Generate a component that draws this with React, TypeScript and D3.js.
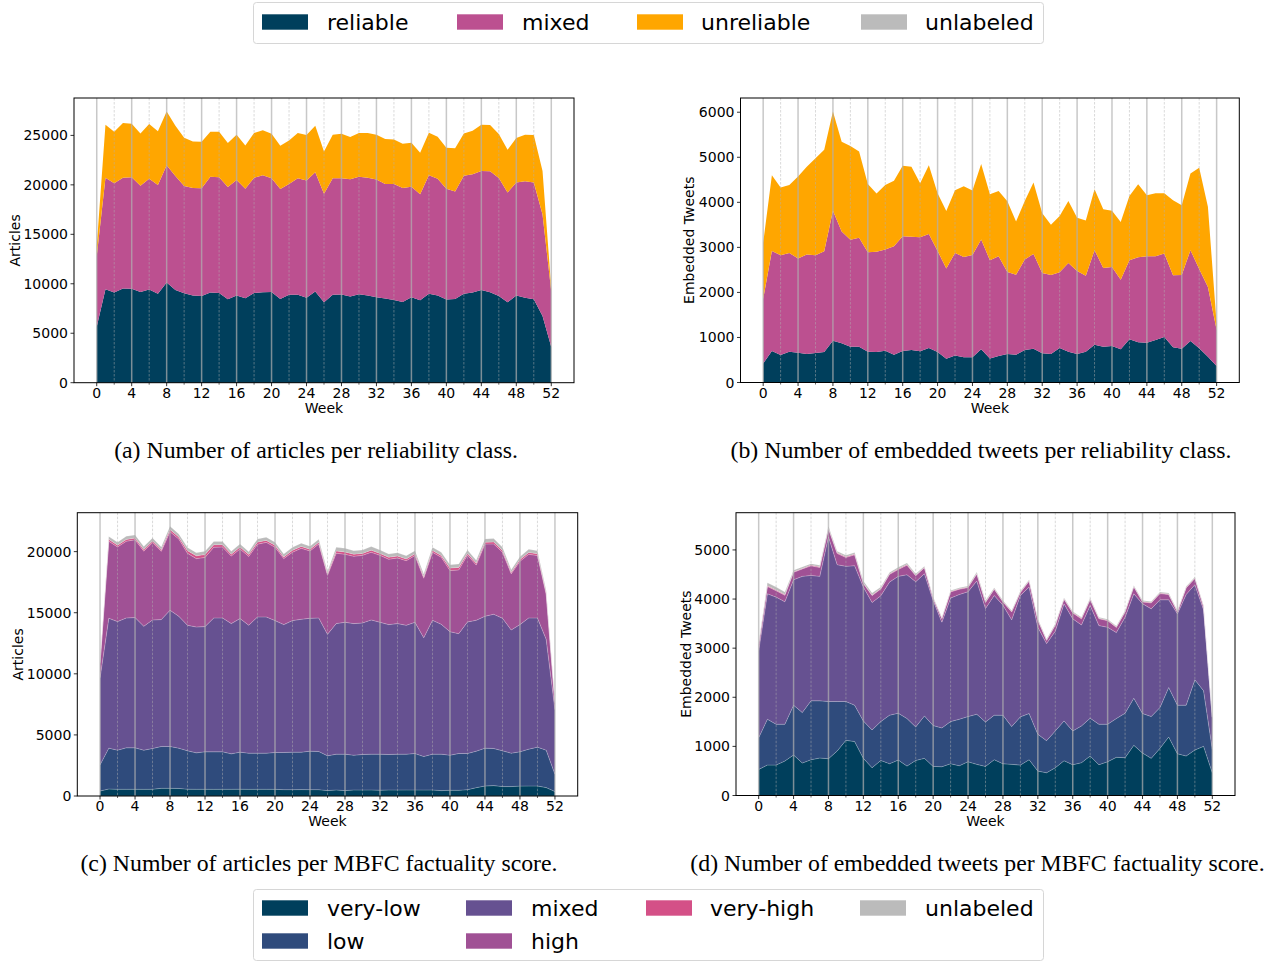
import React from 'react';
import * as d3 from 'd3';

// ---------- categories ----------
const weeks: number[] = d3.range(0, 53);
const weekTicks: number[] = d3.range(0, 53, 4);
const weekMinorTicks: number[] = d3.range(2, 53, 4);

// ---------- (a) articles per reliability class ----------
const articlesReliable = [5650, 9450, 9110, 9520, 9490, 9180, 9420, 8980, 10130, 9380, 9050, 8810, 8770, 9110, 9080, 8430, 8810, 8540, 9080, 9150, 9180, 8470, 8880, 8880, 8600, 9210, 8130, 8880, 8910, 8710, 8940, 8810, 8640, 8500, 8370, 8160, 8640, 8330, 8980, 8810, 8400, 8470, 8980, 9110, 9380, 9150, 8770, 8130, 8810, 8600, 8430, 6740, 3620];
const articlesMixed = [7120, 11280, 11040, 11210, 11280, 10740, 11210, 11010, 11860, 11520, 10830, 10870, 10880, 11720, 11690, 11350, 11690, 11070, 11650, 11820, 11480, 11110, 11210, 11780, 11830, 12060, 10980, 11780, 11750, 11850, 11890, 11920, 11890, 11590, 11720, 11520, 11180, 10710, 11990, 11820, 11210, 10870, 11950, 11960, 12030, 12220, 11930, 11110, 11420, 11760, 11800, 10270, 5590];
const articlesUnreliable = [1030, 5350, 5220, 5520, 5420, 5280, 5520, 5420, 5420, 5080, 4880, 4710, 4710, 4540, 4600, 4440, 4570, 4380, 4510, 4540, 4510, 4370, 4400, 4580, 4600, 4710, 4260, 4410, 4510, 4270, 4410, 4510, 4540, 4540, 4500, 4470, 4440, 4200, 4300, 4240, 4140, 4370, 4270, 4400, 4670, 4680, 4440, 4300, 4500, 4710, 4800, 4400, 290];
const articlesRelTicks = [0, 5000, 10000, 15000, 20000, 25000];

// ---------- (b) embedded tweets per reliability class ----------
const tweetsReliable = [424, 699, 610, 684, 662, 632, 654, 677, 929, 870, 796, 796, 684, 677, 706, 617, 699, 721, 691, 766, 677, 528, 602, 558, 558, 736, 535, 587, 632, 617, 721, 751, 647, 632, 766, 684, 632, 684, 840, 796, 810, 736, 959, 892, 885, 944, 1011, 781, 751, 922, 758, 572, 364];
const tweetsMixed = [1427, 2223, 2215, 2193, 2089, 2208, 2171, 2237, 2885, 2483, 2371, 2416, 2208, 2223, 2246, 2409, 2550, 2513, 2536, 2528, 2245, 2000, 2275, 2230, 2275, 2439, 2179, 2216, 1822, 1777, 2008, 2104, 1784, 1755, 1680, 1970, 1844, 1688, 2097, 1747, 1755, 1547, 1755, 1889, 1918, 1859, 1851, 1598, 1636, 2015, 1762, 1547, 803];
const tweetsUnreliable = [1249, 1680, 1502, 1510, 1821, 1948, 2156, 2253, 2201, 1993, 2082, 1918, 1517, 1293, 1435, 1450, 1561, 1554, 1197, 1531, 1279, 1279, 1391, 1569, 1427, 1673, 1464, 1450, 1568, 1182, 1301, 1584, 1324, 1115, 1249, 1376, 1182, 1227, 1353, 1301, 1249, 1278, 1427, 1621, 1353, 1398, 1339, 1666, 1546, 1702, 2245, 1784, 133];
const tweetsRelTicks = [0, 1000, 2000, 3000, 4000, 5000, 6000];

// ---------- (c) articles per MBFC factuality score ----------
const artVeryLow = [410, 575, 550, 550, 550, 545, 550, 630, 630, 620, 560, 550, 550, 545, 550, 550, 560, 545, 550, 550, 545, 520, 520, 525, 520, 520, 440, 495, 440, 495, 490, 495, 480, 495, 490, 495, 495, 490, 495, 440, 470, 465, 520, 685, 820, 850, 770, 770, 810, 820, 820, 690, 360];
const artLow = [2138, 3343, 3203, 3395, 3395, 3208, 3340, 3425, 3425, 3298, 3139, 2984, 3066, 3071, 3066, 2902, 3029, 2962, 2957, 2957, 3017, 3042, 3069, 3064, 3151, 3124, 2848, 2930, 2985, 2847, 2907, 2930, 2945, 2902, 2935, 2930, 2984, 2743, 2930, 2985, 2872, 3014, 2959, 2986, 3098, 3040, 2929, 2737, 2806, 3016, 3180, 3063, 1421];
const artMixedF = [7123, 10630, 10521, 10630, 10658, 10137, 10521, 10383, 11150, 10794, 10274, 10302, 10247, 10959, 10959, 10658, 10932, 10466, 11151, 11151, 10794, 10465, 10767, 10877, 10877, 10931, 9945, 10685, 10794, 10768, 10767, 10986, 10794, 10630, 10685, 10548, 10740, 9726, 10959, 10630, 10110, 9809, 10768, 10713, 10794, 10987, 10849, 10082, 10411, 10739, 10575, 9069, 5287];
const artHigh = [1189, 6305, 6113, 6275, 6367, 6151, 6322, 5586, 6427, 6330, 5886, 5592, 5664, 5787, 5807, 5527, 5699, 5637, 5953, 6100, 6011, 5401, 5600, 5809, 5510, 6049, 4831, 5766, 5565, 5512, 5533, 5540, 5478, 5351, 5378, 5288, 5463, 4865, 5562, 5490, 5010, 5218, 5470, 4516, 5909, 5751, 5408, 4592, 5182, 5207, 5107, 3680, 532];
const artVeryHigh = [60, 150, 140, 150, 140, 130, 140, 130, 170, 150, 220, 230, 230, 200, 190, 150, 160, 150, 170, 160, 150, 140, 150, 150, 140, 140, 120, 180, 190, 170, 160, 170, 160, 160, 150, 140, 140, 120, 150, 140, 200, 200, 160, 150, 150, 160, 140, 120, 140, 150, 150, 120, 40];
const artUnlabeled = [80, 230, 240, 260, 260, 240, 250, 230, 280, 260, 250, 260, 270, 260, 250, 240, 250, 240, 260, 260, 250, 240, 250, 260, 240, 250, 200, 300, 300, 290, 280, 290, 280, 270, 280, 270, 260, 220, 260, 260, 270, 280, 260, 250, 270, 280, 260, 220, 240, 260, 250, 200, 60];
const articlesFactTicks = [0, 5000, 10000, 15000, 20000];

// ---------- (d) embedded tweets per MBFC factuality score ----------
const twVeryLow = [531, 620, 620, 702, 824, 661, 729, 763, 749, 906, 1124, 1097, 756, 565, 715, 647, 722, 599, 715, 756, 593, 586, 647, 606, 688, 634, 593, 729, 647, 634, 620, 729, 497, 463, 565, 708, 627, 668, 804, 627, 688, 777, 770, 1022, 865, 756, 960, 1192, 851, 804, 926, 1001, 463];
const twLow = [647, 933, 831, 749, 1015, 1028, 1199, 1165, 1165, 1008, 790, 742, 763, 770, 790, 988, 954, 968, 682, 865, 831, 790, 858, 947, 920, 1021, 905, 906, 988, 769, 981, 940, 750, 654, 750, 811, 688, 749, 770, 824, 763, 790, 906, 960, 804, 852, 832, 1008, 988, 1035, 1431, 1131, 477];
const twMixedF = [1772, 2555, 2589, 2493, 2555, 2773, 2554, 2534, 3352, 2786, 2752, 2841, 2725, 2596, 2562, 2711, 2786, 2929, 2956, 2895, 2547, 2153, 2514, 2541, 2541, 2712, 2310, 2439, 2241, 2173, 2473, 2575, 2179, 1976, 2030, 2385, 2282, 2057, 2295, 2009, 1975, 1750, 1955, 2126, 2235, 2193, 2193, 1785, 1860, 2255, 1935, 1649, 650];
const twHigh = [125, 149, 129, 133, 150, 151, 194, 180, 163, 228, 180, 221, 73, 140, 137, 157, 139, 193, 123, 120, 44, 72, 127, 106, 85, 143, 123, 126, 65, 161, 58, 120, 141, 65, 120, 92, 120, 122, 120, 141, 134, 106, 106, 140, 37, 120, 127, 106, 38, 133, 126, 58, 3];
const twVeryHigh = [5, 15, 15, 15, 10, 10, 15, 15, 15, 15, 15, 15, 10, 10, 10, 10, 15, 15, 10, 10, 5, 10, 10, 10, 10, 10, 10, 10, 10, 10, 10, 10, 10, 10, 10, 10, 10, 15, 10, 10, 10, 10, 10, 10, 10, 10, 10, 10, 10, 10, 10, 10, 2];
const twUnlabeled = [20, 60, 60, 50, 30, 30, 30, 30, 40, 30, 30, 30, 40, 40, 30, 30, 30, 30, 30, 20, 20, 20, 20, 20, 20, 30, 30, 20, 20, 20, 20, 20, 20, 20, 20, 20, 20, 20, 20, 20, 20, 20, 20, 20, 20, 20, 20, 20, 20, 20, 20, 20, 5];
const tweetsFactTicks = [0, 1000, 2000, 3000, 4000, 5000];

// ---------- legend labels ----------
const relLabels = ['reliable', 'mixed', 'unreliable', 'unlabeled'];
const factLabels = ['very-low', 'low', 'mixed', 'high', 'very-high', 'unlabeled'];

// ---------- colours ----------
const relColors: Record<string, string> = {
  reliable: '#003f5c',
  mixed: '#bc5090',
  unreliable: '#ffa600',
  unlabeled: '#bbbbbb',
};
const factColors: Record<string, string> = {
  'very-low': '#003f5c',
  low: '#2f4b7c',
  mixed: '#665191',
  high: '#a05195',
  'very-high': '#d45087',
  unlabeled: '#bbbbbb',
};

const SANS = 'DejaVu Sans, Verdana, sans-serif';
const SERIF = '"Liberation Serif", "Times New Roman", serif';

type Series = { key: string; values: number[]; color: string };

interface PanelProps {
  left: number;
  top: number;
  right: number;
  bottom: number;
  series: Series[];
  yTicks: number[];
  yLabel: string;
  yLabelX: number;
  edges: boolean;
}

function Panel({ left, top, right, bottom, series, yTicks, yLabel, yLabelX, edges }: PanelProps) {
  const keys = series.map((s) => s.key);
  const table = weeks.map((w, i) => {
    const row: Record<string, number> = { week: w };
    series.forEach((s) => (row[s.key] = s.values[i]));
    return row;
  });
  const stacked = d3.stack<Record<string, number>>().keys(keys)(table);
  const maxTotal = d3.max(stacked[stacked.length - 1], (d) => d[1]) as number;

  const x = d3.scaleLinear().domain([-2.6, 54.6]).range([left, right]);
  const y = d3.scaleLinear().domain([0, maxTotal * 1.05]).range([bottom, top]);

  const area = d3
    .area<d3.SeriesPoint<Record<string, number>>>()
    .x((d) => x(d.data.week))
    .y0((d) => y(d[0]))
    .y1((d) => y(d[1]));

  const fmt = d3.format('d');
  return (
    <g>
      {stacked.map((layer, i) => (
        <path
          key={layer.key}
          d={area(layer) as string}
          fill={series[i].color}
          stroke={edges ? '#ffffff' : 'none'}
          strokeOpacity={edges ? 0.3 : 0}
          strokeWidth={0.6}
        />
      ))}
      {weekTicks.map((w) => (
        <line key={'g' + w} x1={x(w)} x2={x(w)} y1={top} y2={bottom} stroke="#b0b0b0" strokeOpacity={0.7} strokeWidth={1.5} />
      ))}
      {weekMinorTicks.map((w) => (
        <line key={'m' + w} x1={x(w)} x2={x(w)} y1={top} y2={bottom} stroke="#b0b0b0" strokeOpacity={0.6} strokeWidth={0.8} strokeDasharray="2.5,1.5" />
      ))}
      <rect x={left} y={top} width={right - left} height={bottom - top} fill="none" stroke="#000" strokeWidth={1} />
      {weekTicks.map((w) => (
        <g key={'t' + w}>
          <line x1={x(w)} x2={x(w)} y1={bottom} y2={bottom + 3.5} stroke="#000" strokeWidth={0.8} />
          <text x={x(w)} y={bottom + 15} textAnchor="middle" fontFamily={SANS} fontSize={14} fill="#000">
            {w}
          </text>
        </g>
      ))}
      {weekMinorTicks.map((w) => (
        <line key={'mt' + w} x1={x(w)} x2={x(w)} y1={bottom} y2={bottom + 2} stroke="#000" strokeWidth={0.6} />
      ))}
      {yTicks.map((v) => (
        <g key={'y' + v}>
          <line x1={left - 3.5} x2={left} y1={y(v)} y2={y(v)} stroke="#000" strokeWidth={0.8} />
          <text x={left - 6} y={y(v) + 5} textAnchor="end" fontFamily={SANS} fontSize={14} fill="#000">
            {fmt(v)}
          </text>
        </g>
      ))}
      <text x={(left + right) / 2} y={bottom + 30} textAnchor="middle" fontFamily={SANS} fontSize={14} fill="#000">
        Week
      </text>
      <text
        transform={`translate(${yLabelX},${(top + bottom) / 2}) rotate(-90)`}
        textAnchor="middle"
        fontFamily={SANS}
        fontSize={14}
        fill="#000"
      >
        {yLabel}
      </text>
    </g>
  );
}

function LegendItem({ x, tx, yc, label, color }: { x: number; tx: number; yc: number; label: string; color: string }) {
  return (
    <g>
      <rect x={x} y={yc - 7.7} width={46} height={15.4} fill={color} />
      <text x={tx} y={yc + 8} fontFamily={SANS} fontSize={22} fill="#000">
        {label}
      </text>
    </g>
  );
}

export default function App() {
  const relSeriesA: Series[] = [
    { key: 'reliable', values: articlesReliable, color: relColors.reliable },
    { key: 'mixed', values: articlesMixed, color: relColors.mixed },
    { key: 'unreliable', values: articlesUnreliable, color: relColors.unreliable },
  ];
  const relSeriesB: Series[] = [
    { key: 'reliable', values: tweetsReliable, color: relColors.reliable },
    { key: 'mixed', values: tweetsMixed, color: relColors.mixed },
    { key: 'unreliable', values: tweetsUnreliable, color: relColors.unreliable },
  ];
  const factSeriesC: Series[] = [
    { key: 'very-low', values: artVeryLow, color: factColors['very-low'] },
    { key: 'low', values: artLow, color: factColors.low },
    { key: 'mixed', values: artMixedF, color: factColors.mixed },
    { key: 'high', values: artHigh, color: factColors.high },
    { key: 'very-high', values: artVeryHigh, color: factColors['very-high'] },
    { key: 'unlabeled', values: artUnlabeled, color: factColors.unlabeled },
  ];
  const factSeriesD: Series[] = [
    { key: 'very-low', values: twVeryLow, color: factColors['very-low'] },
    { key: 'low', values: twLow, color: factColors.low },
    { key: 'mixed', values: twMixedF, color: factColors.mixed },
    { key: 'high', values: twHigh, color: factColors.high },
    { key: 'very-high', values: twVeryHigh, color: factColors['very-high'] },
    { key: 'unlabeled', values: twUnlabeled, color: factColors.unlabeled },
  ];

  const topLegendX = [262, 457, 637, 861];
  const topLegendTx = [327, 522, 701, 925];
  const botLegendPos = [
    { x: 262, tx: 327, yc: 908 },
    { x: 262, tx: 327, yc: 941 },
    { x: 466, tx: 531, yc: 908 },
    { x: 466, tx: 531, yc: 941 },
    { x: 646, tx: 710, yc: 908 },
    { x: 860, tx: 925, yc: 908 },
  ];

  return (
    <svg width={1276} height={962} style={{ position: 'absolute', left: 0, top: 0, background: '#fff' }}>
      <rect x={0} y={0} width={1276} height={962} fill="#fff" />
      {/* top legend */}
      <rect x={253.5} y={2.5} width={790} height={41} rx={3} fill="#fff" stroke="#d6d6d6" strokeWidth={1} />
      {relLabels.map((l, i) => (
        <LegendItem key={l} x={topLegendX[i]} tx={topLegendTx[i]} yc={22} label={l} color={relColors[l]} />
      ))}

      <Panel left={74} top={98} right={574} bottom={382.7} series={relSeriesA} yTicks={articlesRelTicks} yLabel="Articles" yLabelX={20} edges={false} />
      <Panel left={740.5} top={98} right={1239.3} bottom={382.5} series={relSeriesB} yTicks={tweetsRelTicks} yLabel="Embedded Tweets" yLabelX={694} edges={false} />
      <Panel left={77.3} top={512.7} right={577.7} bottom={796} series={factSeriesC} yTicks={articlesFactTicks} yLabel="Articles" yLabelX={23} edges={true} />
      <Panel left={736} top={512.7} right={1235} bottom={795.5} series={factSeriesD} yTicks={tweetsFactTicks} yLabel="Embedded Tweets" yLabelX={691} edges={true} />

      <text x={316} y={458} textAnchor="middle" fontFamily={SERIF} fontSize={23.8} fill="#000">
        (a) Number of articles per reliability class.
      </text>
      <text x={981} y={458} textAnchor="middle" fontFamily={SERIF} fontSize={23.8} fill="#000">
        (b) Number of embedded tweets per reliability class.
      </text>
      <text x={319} y={871} textAnchor="middle" fontFamily={SERIF} fontSize={23.8} fill="#000">
        (c) Number of articles per MBFC factuality score.
      </text>
      <text x={977.5} y={871} textAnchor="middle" fontFamily={SERIF} fontSize={23.8} fill="#000">
        (d) Number of embedded tweets per MBFC factuality score.
      </text>

      {/* bottom legend */}
      <rect x={253.5} y={889.5} width={790} height={71} rx={3} fill="#fff" stroke="#d6d6d6" strokeWidth={1} />
      {factLabels.map((l, i) => (
        <LegendItem key={l} x={botLegendPos[i].x} tx={botLegendPos[i].tx} yc={botLegendPos[i].yc} label={l} color={factColors[l]} />
      ))}
    </svg>
  );
}
